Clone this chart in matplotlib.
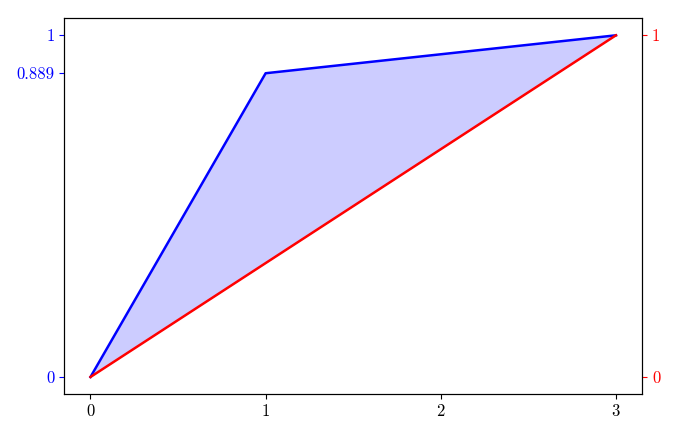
import matplotlib
matplotlib.use("Agg")
import matplotlib.pyplot as plt
import numpy as np

# Curve data
x_vals = [0, 1, 3]
blue_vals = [0, 0.889, 1]
red_x = [0, 3]
red_vals = [0, 1]

left_ticks = [0, 0.889, 1]
left_labels = ["0", "0.889", "1"]
right_ticks = [0, 1]
right_labels = ["0", "1"]
x_ticks = [0, 1, 2, 3]

plt.rcParams['font.family'] = 'serif'
plt.rcParams['font.serif'] = ['cmr10', 'DejaVu Serif']
plt.rcParams['axes.formatter.use_mathtext'] = True
plt.rcParams['axes.unicode_minus'] = False
plt.rcParams['font.size'] = 12

fig, ax = plt.subplots(figsize=(6.76, 4.34), dpi=100)
fig.subplots_adjust(left=0.095, right=0.95, top=0.958, bottom=0.092)

red_interp = np.interp(x_vals, red_x, red_vals)
ax.fill_between(x_vals, blue_vals, red_interp, color='blue', alpha=0.2, linewidth=0)
ax.plot(x_vals, blue_vals, color='blue', linewidth=1.8)
ax.plot(red_x, red_vals, color='red', linewidth=1.8)

ax.set_xticks(x_ticks)
ax.set_xticklabels([str(t) for t in x_ticks])
ax.set_yticks(left_ticks)
ax.set_yticklabels(left_labels)
ax.tick_params(axis='y', colors='blue')

ax2 = ax.twinx()
ax2.set_ylim(ax.get_ylim())
ax2.set_yticks(right_ticks)
ax2.set_yticklabels(right_labels)
ax2.tick_params(axis='y', colors='red')

plt.savefig("out.png", dpi=100)
